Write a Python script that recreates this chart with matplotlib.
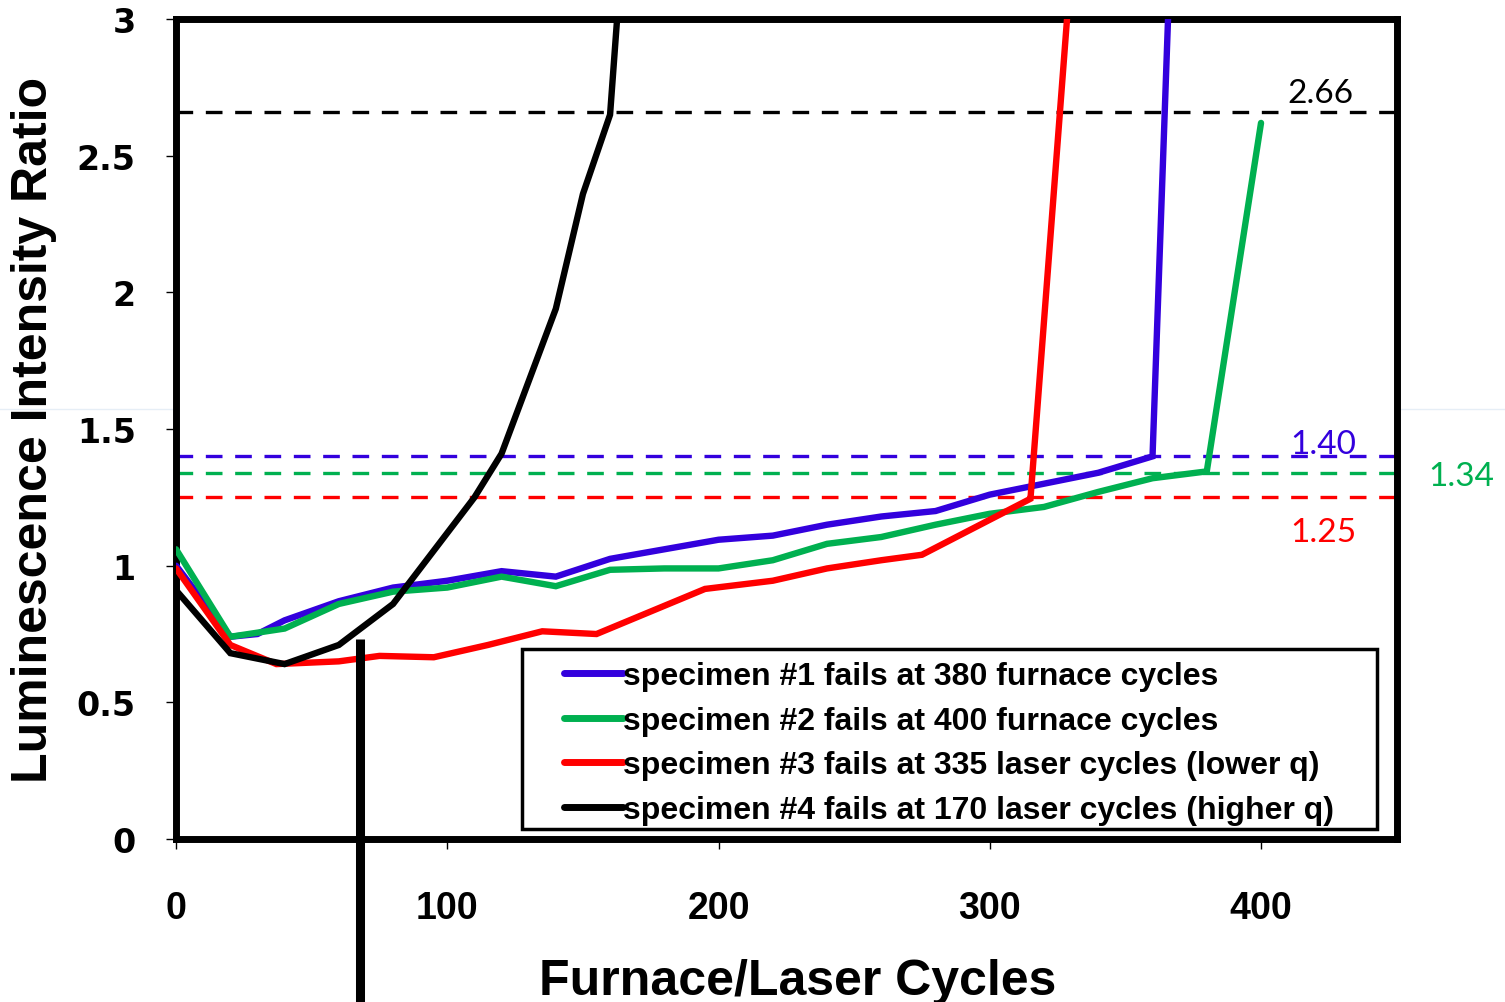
import matplotlib
matplotlib.use("Agg")
import matplotlib.pyplot as plt
from matplotlib.lines import Line2D
from matplotlib.patches import Rectangle

# specimen #1 (furnace)
x1 = [0, 20, 30, 40, 60, 80, 100, 120, 140, 160, 180, 200, 220, 240, 260, 280, 300, 320, 340, 360, 380]
y1 = [1.00, 0.74, 0.75, 0.80, 0.87, 0.92, 0.945, 0.98, 0.96, 1.025, 1.06, 1.095, 1.11, 1.15, 1.18, 1.20, 1.26, 1.30, 1.34, 1.40, 7.0]
# specimen #2 (furnace)
x2 = [0, 20, 40, 60, 80, 100, 120, 140, 160, 180, 200, 220, 240, 260, 280, 300, 320, 340, 360, 380, 400]
y2 = [1.06, 0.74, 0.77, 0.86, 0.905, 0.92, 0.96, 0.925, 0.985, 0.99, 0.99, 1.02, 1.08, 1.105, 1.15, 1.19, 1.215, 1.27, 1.32, 1.345, 2.62]
# specimen #3 (laser, lower q)
x3 = [0, 20, 37, 60, 75, 95, 115, 135, 155, 195, 220, 240, 260, 275, 315, 335]
y3 = [0.99, 0.71, 0.64, 0.65, 0.67, 0.665, 0.71, 0.76, 0.75, 0.915, 0.945, 0.99, 1.02, 1.04, 1.245, 3.85]
# specimen #4 (laser, higher q)
x4 = [0, 20, 40, 60, 80, 110, 120, 140, 150, 160, 170]
y4 = [0.91, 0.68, 0.64, 0.71, 0.86, 1.25, 1.41, 1.94, 2.36, 2.65, 4.0]

labels = ["specimen #1 fails at 380 furnace cycles",
          "specimen #2 fails at 400 furnace cycles",
          "specimen #3 fails at 335 laser cycles (lower q)",
          "specimen #4 fails at 170 laser cycles (higher q)"]
colors = ["#3300DD", "#00B050", "#FF0000", "#000000"]

thresholds = [2.66, 1.40, 1.34, 1.25]
threshold_labels = ["2.66", "1.40", "1.34", "1.25"]
threshold_colors = ["#000000", "#3300DD", "#00B050", "#FF0000"]
label_pos = [(422, 2.73), (423, 1.445), (474, 1.328), (423, 1.123)]

marker_x = 67.8  # stray vertical bar in the original

fig = plt.figure(figsize=(15.05, 10.03), dpi=100)
ax = fig.add_axes([0.117, 0.1625, 0.811, 0.8175])

for xs, ys, c in zip([x1, x2, x3, x4], [y1, y2, y3, y4], colors):
    ax.plot(xs, ys, color=c, lw=4.6, solid_joinstyle="miter", solid_capstyle="round", zorder=3)

for v, c in zip(thresholds, threshold_colors):
    ax.axhline(v, color=c, lw=2.4, dashes=(5, 3.8), zorder=2)

for (tx, ty), t, c in zip(label_pos, threshold_labels, threshold_colors):
    ax.text(tx, ty, t, color=c, fontsize=24, family="Lato", ha="center", va="center",
            clip_on=False)

ax.plot([marker_x, marker_x], [0.73, -0.62], color="black", lw=6.5, clip_on=False,
        solid_capstyle="butt", zorder=4)

ax.set_xlim(0, 450)
ax.set_ylim(0, 3)
ax.set_xticks([0, 100, 200, 300, 400])
ax.set_yticks([0, 0.5, 1, 1.5, 2, 2.5, 3])
ax.set_yticklabels(["0", "0.5", "1", "1.5", "2", "2.5", "3"])
ax.tick_params(axis="both", direction="out", length=7, width=1, color="black")
ax.tick_params(axis="x", pad=30)
ax.tick_params(axis="y", pad=22)
for lab in ax.get_xticklabels():
    lab.set_fontfamily("Liberation Sans")
    lab.set_fontweight("bold")
    lab.set_fontsize(27)
for lab in ax.get_yticklabels():
    lab.set_fontfamily("DejaVu Sans")
    lab.set_fontweight("bold")
    lab.set_fontsize(24)
for s in ax.spines.values():
    s.set_linewidth(5)

ax.set_xlabel("Furnace/Laser Cycles", fontsize=36, fontweight="bold",
              family="Liberation Sans", labelpad=21)
ax.xaxis.set_label_coords(0.509, -0.145)
ax.set_ylabel("Luminescence Intensity Ratio", fontsize=36, fontweight="bold",
              family="Liberation Sans", labelpad=14)

handles = [Line2D([0], [0], color=c, lw=5, solid_capstyle="round") for c in colors]
leg = ax.legend(handles, labels, loc="upper left", bbox_to_anchor=(0.318, 0.217),
                frameon=False, prop={"family": "Liberation Sans", "weight": "bold", "size": 23},
                handlelength=1.85, handletextpad=0.0, labelspacing=0.46, borderpad=0,
                borderaxespad=0)
leg.set_zorder(6)
ax.add_patch(Rectangle((0.283, 0.012), 0.701, 0.220, transform=ax.transAxes,
                       facecolor="white", edgecolor="black", lw=2.5, zorder=5))

fig.add_artist(Line2D([0, 1], [0.591, 0.591], transform=fig.transFigure,
                      color="#e6eef6", lw=1, zorder=0))

fig.savefig("out.png", dpi=100)
